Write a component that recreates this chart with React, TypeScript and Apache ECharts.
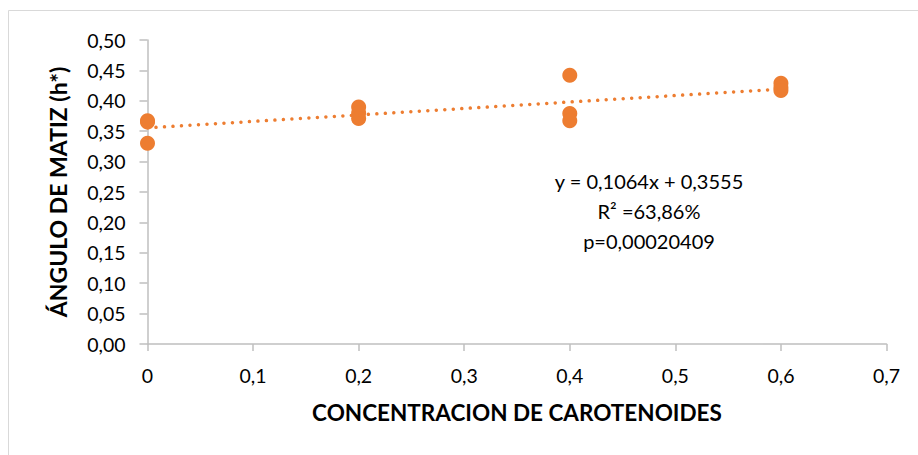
import React, { useEffect, useRef } from "react";
import * as echarts from "echarts";

const concentration = [0, 0, 0, 0.2, 0.2, 0.2, 0.4, 0.4, 0.4, 0.6, 0.6, 0.6];
const hueAngle = [0.367, 0.365, 0.33, 0.39, 0.38, 0.371, 0.442, 0.379, 0.367, 0.429, 0.422, 0.417];
const trendX = [0, 0.6];
const trendY = [0.3555, 0.4193];
const annotationLines = ["y = 0,1064x + 0,3555", "R² =63,86%", "p=0,00020409"];
const xTitle = "CONCENTRACION DE CAROTENOIDES";
const yTitle = "ÁNGULO DE MATIZ (h*)";

const FONT = "Lato, 'Open Sans', sans-serif";
const ORANGE = "#ED7D31";

export default function App() {
  const ref = useRef<HTMLDivElement>(null);
  useEffect(() => {
    if (!ref.current) return;
    const chart = echarts.init(ref.current, null, { renderer: "svg" });
    const points = concentration.map((x, i) => [x, hueAngle[i]]);
    const trend = trendX.map((x, i) => [x, trendY[i]]);
    chart.setOption({
      animation: false,
      backgroundColor: "#ffffff",
      textStyle: { fontFamily: FONT },
      grid: { left: 147.5, top: 40, width: 739, height: 304 },
      xAxis: {
        type: "value",
        min: 0,
        max: 0.7,
        interval: 0.1,
        name: xTitle,
        nameLocation: "middle",
        nameGap: 57,
        nameTextStyle: { fontFamily: FONT, fontSize: 22.5, fontWeight: "bold", color: "#000" },
        axisLine: { show: true, lineStyle: { color: "#bfbfbf", width: 1.5 } },
        axisTick: { show: true, length: 7, lineStyle: { color: "#bfbfbf", width: 1.5 } },
        splitLine: { show: false },
        axisLabel: {
          margin: 21,
          fontFamily: FONT,
          fontSize: 19.5,
          color: "#000",
          formatter: (v: number) => (v === 0 ? "0" : v.toFixed(1).replace(".", ",")),
        },
      },
      yAxis: {
        type: "value",
        min: 0,
        max: 0.5,
        interval: 0.05,
        name: yTitle,
        nameLocation: "middle",
        nameGap: 78,
        nameTextStyle: { fontFamily: FONT, fontSize: 23, fontWeight: "bold", color: "#000" },
        axisLine: { show: true, lineStyle: { color: "#bfbfbf", width: 1.5 } },
        axisTick: { show: true, length: 8, lineStyle: { color: "#bfbfbf", width: 1.5 } },
        splitLine: { show: false },
        axisLabel: {
          margin: 22,
          fontFamily: FONT,
          fontSize: 19.5,
          color: "#000",
          formatter: (v: number) => v.toFixed(2).replace(".", ","),
        },
      },
      series: [
        {
          type: "scatter",
          data: points,
          symbol: "circle",
          symbolSize: 15,
          itemStyle: { color: ORANGE, opacity: 1 },
          z: 2,
        },
        {
          type: "line",
          data: trend,
          symbol: "none",
          lineStyle: { color: ORANGE, width: 3.5, type: [0.01, 8.5], cap: "round" },
          z: 3,
        },
      ],
      graphic: [
        {
          type: "rect",
          shape: { x: 8.5, y: 10.5, width: 1000, height: 1000 },
          style: { fill: "none", stroke: "#d9d9d9", lineWidth: 1 },
          silent: true,
          z: -1,
        },
        ...annotationLines.map((t, i) => ({
          type: "text",
          x: 649,
          y: 181 + i * 30,
          style: {
            text: t,
            fontFamily: FONT,
            fontSize: 20,
            fill: "#000",
            textAlign: "center",
            textVerticalAlign: "middle",
          },
        })),
      ],
    });
    return () => chart.dispose();
  }, []);
  return (
    <div
      ref={ref}
      style={{ position: "absolute", left: 0, top: 0, width: 918, height: 455 }}
    />
  );
}
